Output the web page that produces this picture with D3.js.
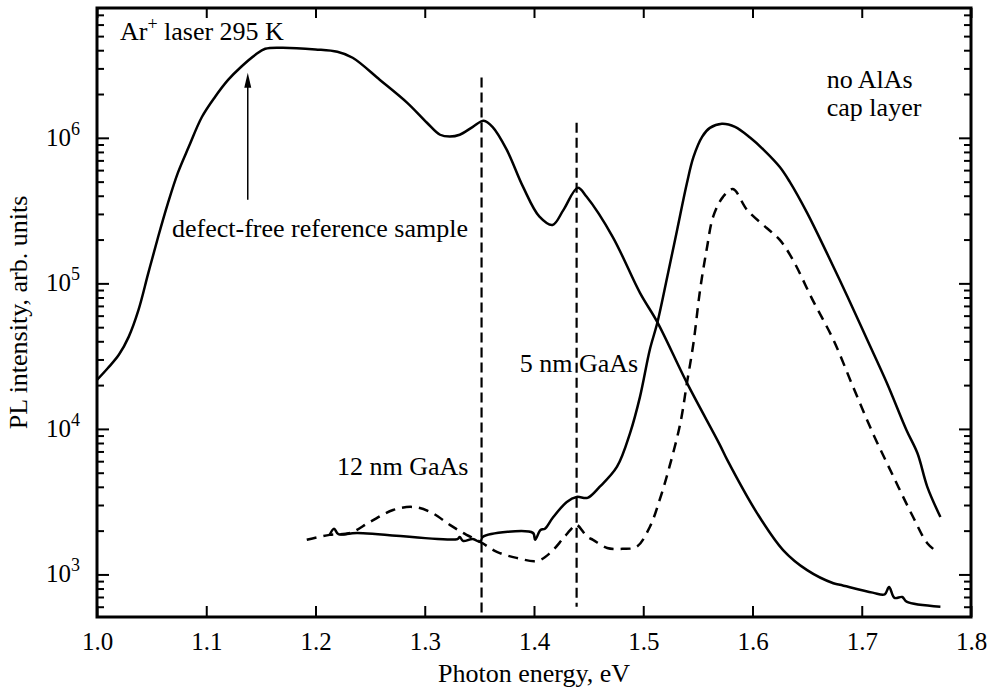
<!DOCTYPE html>
<html>
<head>
<meta charset="utf-8">
<script src="https://cdn.jsdelivr.net/npm/d3@7"></script>
<style>
body { margin: 0; background: #fff; }
text { font-family: "Liberation Serif", "Times New Roman", serif; fill: #000; }
.tick line { stroke: #000; stroke-width: 2; }
.curve { fill: none; stroke: #000; stroke-width: 2.5; stroke-linejoin: round; }
</style>
</head>
<body>
<svg id="chart" width="990" height="693"></svg>
<script>
// defect-free reference sample
var refE = [1.000, 1.010, 1.020, 1.029, 1.038, 1.047, 1.056, 1.065, 1.074, 1.084, 1.096, 1.108, 1.120, 1.132, 1.145, 1.154, 1.169, 1.200, 1.220, 1.234, 1.259, 1.284, 1.302, 1.314, 1.323, 1.332, 1.344, 1.354, 1.362, 1.375, 1.390, 1.405, 1.417, 1.427, 1.440, 1.448, 1.472, 1.497, 1.513, 1.540, 1.570, 1.577, 1.604, 1.628, 1.650, 1.674, 1.680, 1.710, 1.721, 1.725, 1.730, 1.737, 1.741, 1.772];
var refI = [2.17e4, 2.62e4, 3.23e4, 4.29e4, 6.57e4, 1.18e5, 2.09e5, 3.57e5, 5.74e5, 8.67e5, 1.39e6, 1.91e6, 2.5e6, 3.08e6, 3.72e6, 4.09e6, 4.16e6, 4.05e6, 3.9e6, 3.55e6, 2.5e6, 1.74e6, 1.27e6, 1.05e6, 1.02e6, 1.05e6, 1.19e6, 1.31e6, 1.19e6, 8.3e5, 4.6e5, 2.87e5, 2.52e5, 3.2e5, 4.53e5, 3.95e5, 2.09e5, 8.6e4, 5.4e4, 2.07e4, 7.8e3, 6.1e3, 2.65e3, 1.47e3, 1.07e3, 8.7e2, 8.5e2, 7.5e2, 7.3e2, 8.2e2, 6.9e2, 7.0e2, 6.5e2, 6.0e2];

// no AlAs cap layer, 5 nm GaAs (solid)
var capE = [1.213, 1.217, 1.221, 1.238, 1.330, 1.332, 1.335, 1.344, 1.351, 1.353, 1.399, 1.401, 1.406, 1.410, 1.417, 1.430, 1.439, 1.449, 1.460, 1.476, 1.488, 1.497, 1.506, 1.513, 1.522, 1.531, 1.540, 1.546, 1.554, 1.561, 1.572, 1.584, 1.598, 1.610, 1.625, 1.634, 1.650, 1.668, 1.687, 1.705, 1.723, 1.741, 1.751, 1.760, 1.772];
var capI = [1.87e3, 2.06e3, 1.89e3, 1.93e3, 1.75e3, 1.81e3, 1.70e3, 1.75e3, 1.67e3, 1.81e3, 1.93e3, 1.73e3, 2.02e3, 2.06e3, 2.44e3, 3.15e3, 3.41e3, 3.36e3, 3.99e3, 5.5e3, 9.4e3, 1.66e4, 3.5e4, 5.4e4, 1.11e5, 2.33e5, 4.9e5, 7.4e5, 1.02e6, 1.17e6, 1.25e6, 1.19e6, 1.0e6, 8.3e5, 6.3e5, 5.0e5, 3.05e5, 1.62e5, 8.1e4, 4.1e4, 2.07e4, 9.8e3, 6.8e3, 4.0e3, 2.48e3];

// no AlAs cap layer, 12 nm GaAs (dashed)
var dashE = [1.192, 1.213, 1.232, 1.250, 1.271, 1.289, 1.305, 1.323, 1.335, 1.351, 1.366, 1.384, 1.403, 1.415, 1.427, 1.436, 1.439, 1.449, 1.454, 1.467, 1.481, 1.494, 1.506, 1.515, 1.524, 1.534, 1.540, 1.546, 1.552, 1.558, 1.564, 1.573, 1.582, 1.595, 1.613, 1.625, 1.637, 1.655, 1.674, 1.692, 1.710, 1.729, 1.747, 1.760, 1.770];
var dashI = [1.73e3, 1.87e3, 1.93e3, 2.30e3, 2.77e3, 2.91e3, 2.69e3, 2.19e3, 1.93e3, 1.67e3, 1.43e3, 1.30e3, 1.24e3, 1.41e3, 1.78e3, 2.12e3, 2.19e3, 1.81e3, 1.73e3, 1.52e3, 1.50e3, 1.55e3, 2.12e3, 3.25e3, 5.5e3, 1.1e4, 2.07e4, 3.9e4, 9.0e4, 1.70e5, 2.87e5, 3.93e5, 4.45e5, 3.2e5, 2.4e5, 1.99e5, 1.45e5, 7.7e4, 4.1e4, 1.95e4, 9.4e3, 4.7e3, 2.48e3, 1.64e3, 1.41e3];

// vertical dashed markers
var markE = [1.352, 1.439];
var markTop = [2.6e6, 1.27e6];
var markBottom = [510, 600];

var xTicks = [1.0, 1.1, 1.2, 1.3, 1.4, 1.5, 1.6, 1.7, 1.8];
var yMajor = [1e3, 1e4, 1e5, 1e6];
var yExp = ["3", "4", "5", "6"];

var svg = d3.select('#chart');
var mLeft = 97, mRight = 971, mTop = 8, mBottom = 617;

var x = d3.scaleLinear().domain([1.0, 1.8]).range([mLeft, mRight]);
var y = d3.scaleLog().domain([510, 7.8e6]).range([mBottom, mTop]);

var yMinor = [];
[100, 1000, 10000, 100000, 1000000].forEach(function (p) {
    for (var m = 2; m <= 9; m++) {
        var v = m * p;
        if (v > 510 && v < 7.8e6) yMinor.push(v);
    }
});

function zip(a, b) {
    return a.map(function (d, i) { return [d, b[i]]; });
}

var line = d3.line()
    .x(function (d) { return x(d[0]); })
    .y(function (d) { return y(d[1]); })
    .curve(d3.curveCatmullRom.alpha(0.5));

// ticks
function addAxis(axis, tx, ty) {
    var g = svg.append('g').attr('transform', 'translate(' + tx + ',' + ty + ')').call(axis);
    g.select('.domain').remove();
    return g;
}

addAxis(d3.axisLeft(y).tickValues(yMajor).tickSize(-12).tickFormat(''), mLeft, 0);
addAxis(d3.axisLeft(y).tickValues(yMinor).tickSize(-7).tickFormat(''), mLeft, 0);
addAxis(d3.axisRight(y).tickValues(yMajor).tickSize(-12).tickFormat(''), mRight, 0);
addAxis(d3.axisRight(y).tickValues(yMinor).tickSize(-7).tickFormat(''), mRight, 0);
addAxis(d3.axisTop(x).tickValues(xTicks).tickSize(-10).tickFormat(''), 0, mTop);

var xa = addAxis(d3.axisBottom(x).tickValues(xTicks).tickSize(-11).tickPadding(15).tickFormat(d3.format('.1f')), 0, mBottom);
xa.selectAll('text').style('font-size', '25px').style('font-family', '"Liberation Serif", serif');

// y labels 10^n
svg.selectAll('.ylab')
    .data(yMajor)
    .enter().append('text')
    .attr('class', 'ylab')
    .attr('x', mLeft - 17)
    .attr('y', function (d) { return y(d) + 8; })
    .style('text-anchor', 'end')
    .style('font-size', '25px')
    .each(function (d, i) {
        var t = d3.select(this);
        t.append('tspan').text('10');
        t.append('tspan').attr('dy', -11).style('font-size', '18px').text(yExp[i]);
    });

// frame
svg.append('rect')
    .attr('x', mLeft).attr('y', mTop)
    .attr('width', mRight - mLeft).attr('height', mBottom - mTop)
    .attr('fill', 'none').attr('stroke', '#000').attr('stroke-width', 3);

// dashed vertical markers
svg.selectAll('.mark')
    .data(markE)
    .enter().append('line')
    .attr('class', 'mark')
    .attr('x1', function (d) { return x(d); })
    .attr('x2', function (d) { return x(d); })
    .attr('y1', function (d, i) { return y(markTop[i]); })
    .attr('y2', function (d, i) { return y(markBottom[i]); })
    .attr('stroke', '#000').attr('stroke-width', 2.2)
    .attr('stroke-dasharray', '10,5');

// curves
svg.append('path').attr('class', 'curve').attr('d', line(zip(refE, refI)));
svg.append('path').attr('class', 'curve').attr('d', line(zip(capE, capI)));
svg.append('path').attr('class', 'curve').attr('d', line(zip(dashE, dashI)))
    .attr('stroke-dasharray', '10,7');

// arrow
var ax = x(1.138), ay0 = y(3.75e5), ay1 = y(2.8e6);
svg.append('line')
    .attr('x1', ax).attr('x2', ax).attr('y1', ay0).attr('y2', ay1 + 10)
    .attr('stroke', '#000').attr('stroke-width', 1.5);
svg.append('path')
    .attr('d', 'M' + ax + ',' + ay1 + 'L' + (ax - 3.5) + ',' + (ay1 + 15) + 'L' + (ax + 3.5) + ',' + (ay1 + 15) + 'Z')
    .attr('fill', '#000');

// annotations
function label(e, v, str) {
    return svg.append('text')
        .attr('x', x(e)).attr('y', y(v))
        .style('font-size', '26px')
        .text(str);
}

var ar = svg.append('text').attr('x', x(1.021)).attr('y', y(4.72e6)).style('font-size', '26px');
ar.append('tspan').text('Ar');
ar.append('tspan').attr('dy', -10).style('font-size', '18px').text('+');
ar.append('tspan').attr('dy', 10).text(' laser 295 K');

label(1.0687, 2.09e5, 'defect-free reference sample');
label(1.668, 2.21e6, 'no AlAs');
label(1.668, 1.42e6, 'cap layer');
label(1.387, 2.47e4, '5 nm GaAs');
label(1.2197, 4.83e3, '12 nm GaAs');

// axis titles
svg.append('text')
    .attr('x', (mLeft + mRight) / 2).attr('y', 682)
    .style('text-anchor', 'middle').style('font-size', '26px')
    .text('Photon energy, eV');

svg.append('text')
    .attr('transform', 'translate(27,' + ((mTop + mBottom) / 2) + ') rotate(-90)')
    .style('text-anchor', 'middle').style('font-size', '26px')
    .text('PL intensity, arb. units');
</script>
</body>
</html>
